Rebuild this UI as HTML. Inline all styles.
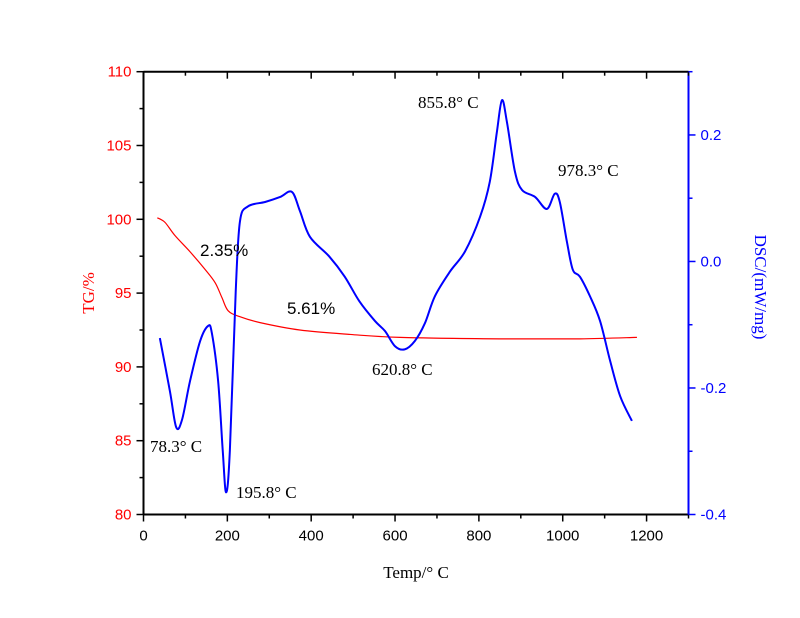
<!DOCTYPE html>
<html><head><meta charset="utf-8"><style>
body{margin:0;background:#fff}
svg{display:block}
.tk{font-family:"Liberation Sans",sans-serif;font-size:15px}
.ann{font-family:"Liberation Serif",serif;font-size:17px;fill:#000}
</style></head><body>
<svg id="c" width="800" height="618"></svg>
<script>
const tgT=[33,51,75,111,147,171,187,202,230,278,373,493,612,851,1041,1177];
const tgV=[100.1,99.8,98.9,97.8,96.6,95.7,94.7,93.8,93.4,93.0,92.5,92.2,92.0,91.9,91.9,92.0];
const dscT=[39,63,78,92,111,135,154,163,178,189,197,206,220,230,249,290,326,354,373,397,443,480,515,552,576,600,623,647,671,695,731,767,803,826,843,855,867,886,903,934,962,981,993,1010,1024,1041,1065,1089,1113,1137,1165];
const dscV=[-0.121,-0.205,-0.262,-0.250,-0.189,-0.126,-0.102,-0.113,-0.189,-0.299,-0.365,-0.299,-0.047,0.063,0.087,0.094,0.102,0.110,0.080,0.039,0.008,-0.024,-0.063,-0.094,-0.110,-0.134,-0.139,-0.126,-0.098,-0.055,-0.016,0.016,0.071,0.126,0.205,0.255,0.220,0.142,0.113,0.102,0.083,0.107,0.094,0.031,-0.013,-0.024,-0.055,-0.094,-0.157,-0.213,-0.252];
const xTicks=[0,200,400,600,800,1000,1200];
const yLTicks=[80,85,90,95,100,105,110];
const yRTicks=[-0.4,-0.2,0.0,0.2];
const yRLabels=["-0.4","-0.2","0.0","0.2"];

const L=143.5,R=688.5,T=71.7,B=514.5;
const X=t=>L+(t-0)/1300*(R-L);
const YL=v=>B-(v-80)/30*(B-T);
const YR=v=>B-(v+0.4)/0.7*(B-T);
const svg=document.getElementById('c');
const NS='http://www.w3.org/2000/svg';
function mk(tag,at,txt){const e=document.createElementNS(NS,tag);for(const k in at)e.setAttribute(k,at[k]);if(txt!==undefined)e.textContent=txt;svg.appendChild(e);return e;}
function smooth(p){let d='M'+p[0][0]+','+p[0][1];for(let i=0;i<p.length-1;i++){const p0=p[i-1]||p[i],p1=p[i],p2=p[i+1],p3=p[i+2]||p2;
d+=' C'+(p1[0]+(p2[0]-p0[0])/6)+','+(p1[1]+(p2[1]-p0[1])/6)+' '+(p2[0]-(p3[0]-p1[0])/6)+','+(p2[1]-(p3[1]-p1[1])/6)+' '+p2[0]+','+p2[1];}return d;}
let e;
e=mk('line',{x1:L,y1:T,x2:R,y2:T,stroke:'#000','stroke-width':2});


e=mk('line',{x1:L,y1:B,x2:R,y2:B,stroke:'#000','stroke-width':2});


e=mk('line',{x1:L,y1:T,x2:L,y2:B,stroke:'#000','stroke-width':2});


e=mk('line',{x1:R,y1:T,x2:R,y2:B,stroke:'#0000ff','stroke-width':2});


for(let t=0;t<=1300;t+=100){
 const big=t%200===0, x=X(t);
 mk('line',{x1:x,y1:B,x2:x,y2:B+(big?7:4),stroke:'#000','stroke-width':1.5});
 mk('line',{x1:x,y1:T,x2:x,y2:T+(big?7:4),stroke:'#000','stroke-width':1.5});
}
xTicks.forEach(t=>{e=mk('text',{x:X(t),y:B+26,'text-anchor':'middle',class:'tk',fill:'#000'},String(t));

});
for(let v=80;v<=110;v+=2.5){const big=v%5===0;mk('line',{x1:L,y1:YL(v),x2:L-(big?7:4),y2:YL(v),stroke:'#000','stroke-width':1.5});}
yLTicks.forEach(v=>{e=mk('text',{x:L-12,y:YL(v)+5,'text-anchor':'end',class:'tk',fill:'#ff0000'},String(v));

});
for(let v=-0.4;v<=0.31;v+=0.1){const big=Math.round(v*10)%2===0;mk('line',{x1:R,y1:YR(v),x2:R+(big?7:4),y2:YR(v),stroke:'#0000ff','stroke-width':1.5});}
yRTicks.forEach((v,i)=>{e=mk('text',{x:R+12,y:YR(v)+5,class:'tk',fill:'#0000ff'},yRLabels[i]);

});
e=mk('path',{d:smooth(tgT.map((t,i)=>[X(t),YL(tgV[i])])),fill:'none',stroke:'#ff0000','stroke-width':1.2});


e=mk('path',{d:smooth(dscT.map((t,i)=>[X(t),YR(dscV[i])])),fill:'none',stroke:'#0000ff','stroke-width':2,'stroke-linejoin':'round'});


const anns=[['2.35%',200,256,'sans'],['5.61%',287,314,'sans'],['855.8° C',418,108,'serif'],['978.3° C',558,176,'serif'],['620.8° C',372,375,'serif'],['78.3° C',150,452,'serif'],['195.8° C',236,498,'serif']];
anns.forEach(a=>{e=mk('text',{x:a[1],y:a[2],class:a[3]==='sans'?'tk':'ann',fill:'#000'},a[0]);if(a[3]==='sans')e.setAttribute('style','font-size:17px');

});
e=mk('text',{x:416,y:578,'text-anchor':'middle',class:'ann'},'Temp/° C');


e=mk('text',{x:0,y:0,'text-anchor':'middle',class:'ann',transform:'translate(94,293) rotate(-90)'},'TG/%');
e.style.fill='#ff0000';


e=mk('text',{x:0,y:0,'text-anchor':'middle',class:'ann',transform:'translate(755,287) rotate(90)'},'DSC/(mW/mg)');
e.style.fill='#0000ff';


</script>
</body></html>
